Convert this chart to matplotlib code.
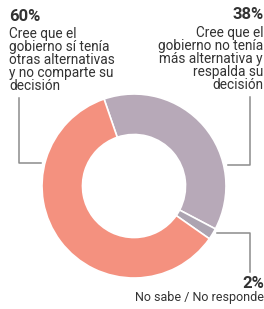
import matplotlib.pyplot as plt
from matplotlib.lines import Line2D

labels = ["Cree que el\ngobierno no tenía\nmás alternativa y\nrespalda su\ndecisión",
          "No sabe / No responde",
          "Cree que el\ngobierno sí tenía\notras alternativas\ny no comparte su\ndecisión"]
values = [38, 2, 60]
pcts = ["38%", "2%", "60%"]
colors = ["#b7a9b8", "#aca4b1", "#f4917f"]

W, H = 264, 309
fig = plt.figure(figsize=(W / 100, H / 100), dpi=100)

# donut centre / radius in pixels (from top-left)
cx, cy, r = 134, 186, 92
ax = fig.add_axes([(cx - r) / W, (H - cy - r) / H, 2 * r / W, 2 * r / H])
ax.pie(values, colors=colors, startangle=109, counterclock=False, radius=1,
       wedgeprops=dict(width=0.44, edgecolor="white", linewidth=1.2))
ax.set_xlim(-1, 1)
ax.set_ylim(-1, 1)
ax.axis("off")

def px(x, y):
    return x / W, 1 - y / H

def leader(pts):
    xs = [p[0] / W for p in pts]
    ys = [1 - p[1] / H for p in pts]
    fig.add_artist(Line2D(xs, ys, transform=fig.transFigure, color="#8c8c8c", lw=1.1))

leader([(19, 98), (19, 163), (41, 163)])
leader([(250, 97), (250, 165), (228, 165)])
leader([(217, 233), (250, 233), (250, 272)])

font = "Roboto"
tc = "#333333"
fig.text(*px(9, 9), pcts[2], ha="left", va="top", fontsize=12, fontweight="bold", color=tc, family=font)
fig.text(*px(9, 27), labels[2], ha="left", va="top", fontsize=9.8, color=tc, family=font, linespacing=0.9)
fig.text(*px(264, 7), pcts[0], ha="right", va="top", fontsize=12, fontweight="bold", color=tc, family=font)
fig.text(*px(263, 26), labels[0], ha="right", va="top", fontsize=9.8, color=tc, family=font,
         linespacing=0.9, multialignment="right")
fig.text(*px(264, 276), pcts[1], ha="right", va="top", fontsize=12, fontweight="bold", color=tc, family=font)
fig.text(*px(264, 291), labels[1], ha="right", va="top", fontsize=9, color=tc, family=font)

fig.savefig("out.png", dpi=100)
